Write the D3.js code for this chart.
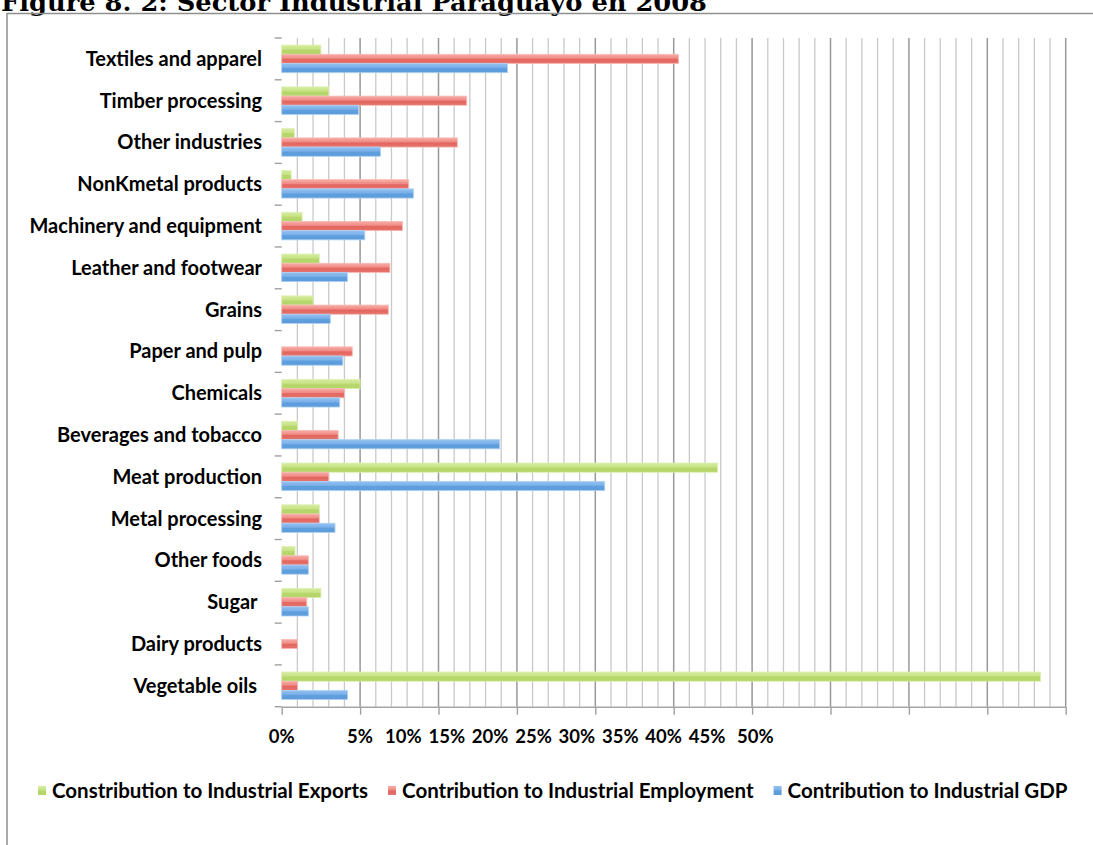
<!DOCTYPE html>
<html>
<head>
<meta charset="utf-8">
<script src="https://cdn.jsdelivr.net/npm/d3@7"></script>
<style>
  html, body { margin: 0; padding: 0; background: #fff; }
  svg { display: block; }
  text { font-family: Lato, "Open Sans", sans-serif; font-weight: 700; fill: #000; }
</style>
</head>
<body>
<svg id="chart" width="1093" height="845"></svg>
<script>
// ---------------- data ----------------
const titleText = "Figure 8. 2: Sector Industrial Paraguayo en 2008";
const categories = [
  "Textiles and apparel", "Timber processing", "Other industries", "NonKmetal products",
  "Machinery and equipment", "Leather and footwear", "Grains", "Paper and pulp",
  "Chemicals", "Beverages and tobacco", "Meat production", "Metal processing",
  "Other foods", "Sugar ", "Dairy products", "Vegetable oils "
];
const seriesNames = [
  "Constribution to Industrial Exports",
  "Contribution to Industrial Employment",
  "Contribution to Industrial GDP"
];
const exportsShare    = [2.5, 3.0, 0.8, 0.6, 1.3, 2.4, 2.0, 0, 5.0, 1.0, 27.8, 2.4, 0.85, 2.5, 0, 48.4];
const employmentShare = [25.3, 11.8, 11.2, 8.1, 7.7, 6.9, 6.8, 4.5, 4.0, 3.6, 3.0, 2.4, 1.7, 1.6, 1.0, 1.0];
const gdpShare        = [14.4, 4.9, 6.3, 8.4, 5.3, 4.2, 3.1, 3.9, 3.7, 13.9, 20.6, 3.4, 1.7, 1.7, 0, 4.2];
const tickValues = [0, 5, 10, 15, 20, 25, 30, 35, 40, 45, 50];
const tickLabels = ["0%", "5%", "10%", "15%", "20%", "25%", "30%", "35%", "40%", "45%", "50%"];

// ---------------- layout ----------------
const svg = d3.select("#chart");
const plot = { left: 281.7, right: 1065.7, top: 38, bottom: 706.7 };

const x = d3.scaleLinear().domain([0, 50]).range([plot.left, plot.right]);
const y = d3.scaleBand().domain(categories).range([plot.top, plot.bottom])
  .paddingInner(0.34).paddingOuter(0.17);
const ySub = d3.scaleBand().domain(seriesNames).range([0, y.bandwidth()]);

const colors = [
  { stops: ["#d6ed9f", "#c7e386", "#b7d76c", "#b3d567"], stroke: "#dcefb0" },
  { stops: ["#f8aca6", "#f08c86", "#e3665f", "#e5736d"], stroke: "#f6bab5" },
  { stops: ["#93c0f0", "#7cb1ea", "#5f9fdd", "#5c9cda"], stroke: "#b0d1f4" }
];

// gradients
const defs = svg.append("defs");
colors.forEach((c, i) => {
  const g = defs.append("linearGradient").attr("id", "grad" + i)
    .attr("x1", 0).attr("y1", 0).attr("x2", 0).attr("y2", 1);
  [0, 0.42, 0.55, 1].forEach((o, k) => g.append("stop").attr("offset", o).attr("stop-color", c.stops[k]));
});

// title (partly cut off at the top, as in the reference)
svg.append("text")
  .attr("x", 1).attr("y", 11)
  .attr("textLength", 706).attr("lengthAdjust", "spacingAndGlyphs")
  .style("font-family", "'DejaVu Serif', 'Liberation Serif', serif")
  .style("font-size", "24px").style("font-weight", 700)
  .text(titleText);

// outer frame
svg.append("rect")
  .attr("x", 7).attr("y", 13.5).attr("width", 1200).attr("height", 1000)
  .attr("fill", "none").attr("stroke", "#8f8f8f").attr("stroke-width", 1.5);

// gridlines: minor every 1%, major every 5%
const gridVals = d3.range(1, 51);
svg.append("g").selectAll("line").data(gridVals).join("line")
  .attr("x1", d => x(d)).attr("x2", d => x(d))
  .attr("y1", plot.top).attr("y2", plot.bottom)
  .attr("stroke", d => d % 5 === 0 ? "#999999" : "#c9c9c9")
  .attr("stroke-width", d => d % 5 === 0 ? 1.5 : 1.3);

// x axis (ticks only; labels drawn separately where the reference shows them)
const xAxis = svg.append("g").attr("transform", `translate(0,${plot.bottom})`)
  .call(d3.axisBottom(x).tickValues(tickValues).tickSize(8).tickSizeOuter(0).tickFormat(""));
xAxis.select(".domain").attr("stroke", "#a6a6a6").attr("stroke-width", 1.5);
xAxis.selectAll(".tick line").attr("stroke", "#a0a0a0").attr("stroke-width", 1.4);

// y axis tick marks at category boundaries
const boundaries = d3.range(categories.length + 1).map(i => plot.top + i * y.step());
svg.append("g").selectAll("line").data(boundaries).join("line")
  .attr("x1", plot.left - 7).attr("x2", plot.left)
  .attr("y1", d => d).attr("y2", d => d)
  .attr("stroke", "#a0a0a0").attr("stroke-width", 1.4);

// bars
const seriesData = [exportsShare, employmentShare, gdpShare];
seriesData.forEach((vals, si) => {
  svg.append("g").selectAll("rect").data(vals.map((v, i) => ({ cat: categories[i], v })))
    .join("rect")
    .filter(d => d.v > 0)
    .attr("x", x(0))
    .attr("y", d => y(d.cat) + ySub(seriesNames[si]))
    .attr("width", d => x(d.v) - x(0))
    .attr("height", ySub.bandwidth())
    .attr("fill", `url(#grad${si})`)
    .attr("stroke", colors[si].stroke).attr("stroke-width", 0.8);
});

// category labels
svg.append("g").selectAll("text").data(categories).join("text")
  .attr("x", 262)
  .attr("y", d => y(d) + y.bandwidth() / 2)
  .attr("dy", "0.35em")
  .attr("text-anchor", "end")
  .style("white-space", "pre")
  .style("font-size", "20px")
  .text(d => d);

// x tick labels (as laid out in the reference: 0% at origin, the rest packed)
const labelStep = d3.scaleLinear().domain([1, 9]).range([360, 707]);
svg.append("g").selectAll("text").data(tickLabels).join("text")
  .attr("x", (d, i) => i === 0 ? x(tickValues[0]) : labelStep(i) + (i === 10 ? 5 : 0))
  .attr("y", 743)
  .attr("text-anchor", "middle")
  .style("font-size", "18.5px")
  .text(d => d);

// legend
const legend = svg.append("g").attr("transform", "translate(38,791)");
let lx = 0;
seriesNames.forEach((name, i) => {
  legend.append("rect").attr("x", lx).attr("y", -5).attr("width", 8).attr("height", 9)
    .attr("fill", `url(#grad${i})`);
  const t = legend.append("text").attr("x", lx + 14).attr("y", 0).attr("dy", "0.35em")
    .style("font-size", "20.5px").text(name);
  lx += 14 + t.node().getComputedTextLength() + 20;
});
</script>
</body>
</html>
